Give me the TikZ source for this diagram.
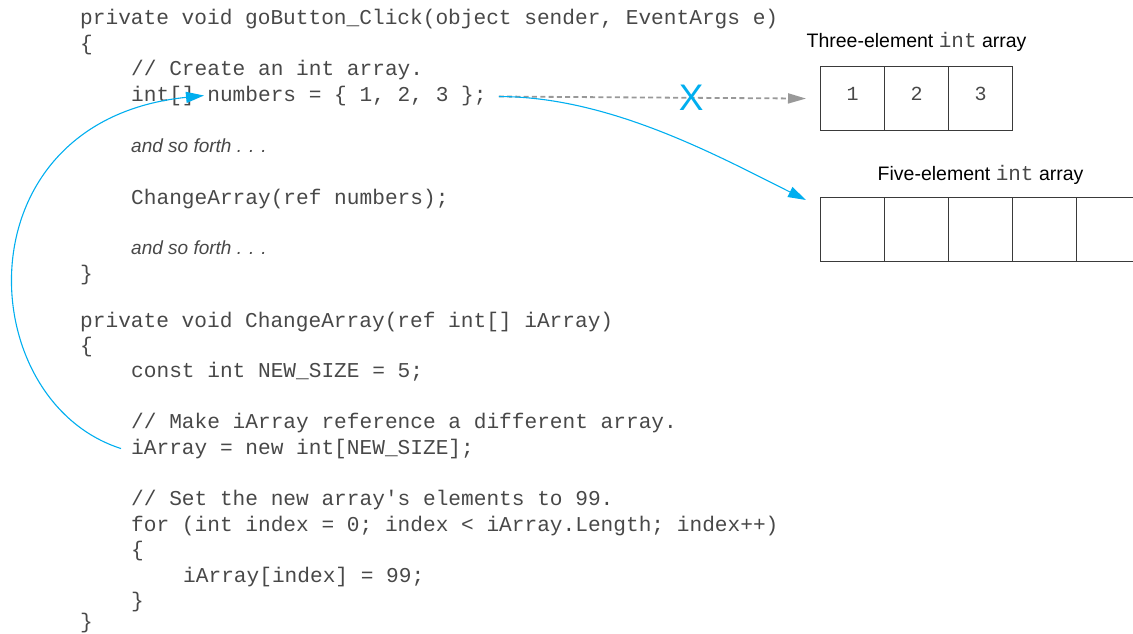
\documentclass[tikz,border=0pt]{standalone}
\usepackage{fontspec}
\setmainfont{Liberation Sans}
\setmonofont{Liberation Mono}
\usetikzlibrary{arrows.meta}

\definecolor{codegray}{HTML}{484848}
\definecolor{linkblue}{HTML}{00AEEF}
\definecolor{dashgray}{HTML}{999999}
\definecolor{boxline}{HTML}{3A3A3A}

% monospace words inside the array captions
\newcommand\capcodefont{\fontsize{21}{22}\ttfamily\color{codegray}}

\begin{document}
\begin{tikzpicture}[x=1pt,y=-1pt,
  code/.style={anchor=base west, inner sep=0pt, text=codegray,
    font=\fontsize{21.15}{24}\ttfamily},
  note/.style={anchor=base west, inner sep=0pt, text=codegray,
    font=\fontsize{19}{20}\selectfont\itshape},
  cell/.style={draw=boxline, line width=1.1pt, minimum size=64pt, inner sep=0pt,
    anchor=north west},
  digit/.style={yshift=5pt, inner sep=0pt, text=codegray,
    font=\fontsize{20}{22}\ttfamily},
  caption/.style={anchor=base, inner sep=0pt, text=black,
    font=\fontsize{19.5}{22}\selectfont},
  link/.style={draw=linkblue, line width=1.1pt,
    -{Triangle[length=18pt,width=11pt]}},
  oldref/.style={draw=dashgray, line width=1.8pt, dash pattern=on 5pt off 3.3pt,
    -{Triangle[length=18pt,width=10pt]}},
  xmark/.style={text=linkblue, inner sep=0pt, font=\fontsize{37}{37}\selectfont}
]
\useasboundingbox (0,0) rectangle (1133,634);

% ---- source code ----
\node[code] (l1)  at (80,25)   {private void goButton\_Click(object sender, EventArgs e)};
\node[code] (l2)  at (80,51)   {\{};
\node[code] (l3)  at (131,76)  {// Create an int array.};
\node[code] (l4)  at (131,102) {int[] numbers = \{ 1, 2, 3 \};};
\node[note] (l6)  at (131,152) {and so forth . . .};
\node[code] (l8)  at (131,204) {ChangeArray(ref numbers);};
\node[note] (l10) at (131,254) {and so forth . . .};
\node[code] (l12) at (80,280)  {\}};
\node[code] (l14) at (80,327)  {private void ChangeArray(ref int[] iArray)};
\node[code] (l15) at (80,352)  {\{};
\node[code] (l16) at (131,377) {const int NEW\_SIZE = 5;};
\node[code] (l18) at (131,428) {// Make iArray reference a different array.};
\node[code] (l19) at (131,454) {iArray = new int[NEW\_SIZE];};
\node[code] (l21) at (131,505) {// Set the new array's elements to 99.};
\node[code] (l22) at (131,531) {for (int index = 0; index < iArray.Length; index++)};
\node[code] (l23) at (131,556) {\{};
\node[code] (l24) at (183,582) {iArray[index] = 99;};
\node[code] (l25) at (131,607) {\}};
\node[code] (l26) at (80,628)  {\}};

% ---- arrays ----
\node[cell, label={[digit]center:1}] (t1) at (820,66) {};
\node[cell, label={[digit]center:2}] (t2) at (884,66) {};
\node[cell, label={[digit]center:3}] (t3) at (948,66) {};
\node[caption] (tcap) at ([yshift=18pt]t2.north)
  {Three-element {\capcodefont int} array};

\node[cell] (f1) at (820,197)  {};
\node[cell] (f2) at (884,197)  {};
\node[cell] (f3) at (948,197)  {};
\node[cell] (f4) at (1012,197) {};
\node[cell] (f5) at (1076,197) {};
\node[caption] (fcap) at ([yshift=17pt]f3.north)
  {Five-element {\capcodefont int} array};

% ---- connector end points ----
\coordinate (numEnd)  at ([xshift=12pt]l4.east);
\coordinate (numSlot) at ([xshift=73pt,yshift=1pt]l4.west);
\coordinate (iStart)  at ([xshift=-10pt]l19.west);
\coordinate (oldTip)  at ([xshift=-14pt]t1.west);
\coordinate (newTip)  at ([xshift=-14pt,yshift=-3pt]f1.north west);

% ---- connectors ----
\draw[oldref] (numEnd) -- node[pos=0.626, xmark] (cross) {X} (oldTip);
\draw[link] (numEnd) .. controls +(110,0) and +(-90,-45) .. (newTip);
\draw[link] (iStart) .. controls +(-150,-48) and +(-245,25) .. (numSlot);
\end{tikzpicture}
\end{document}
